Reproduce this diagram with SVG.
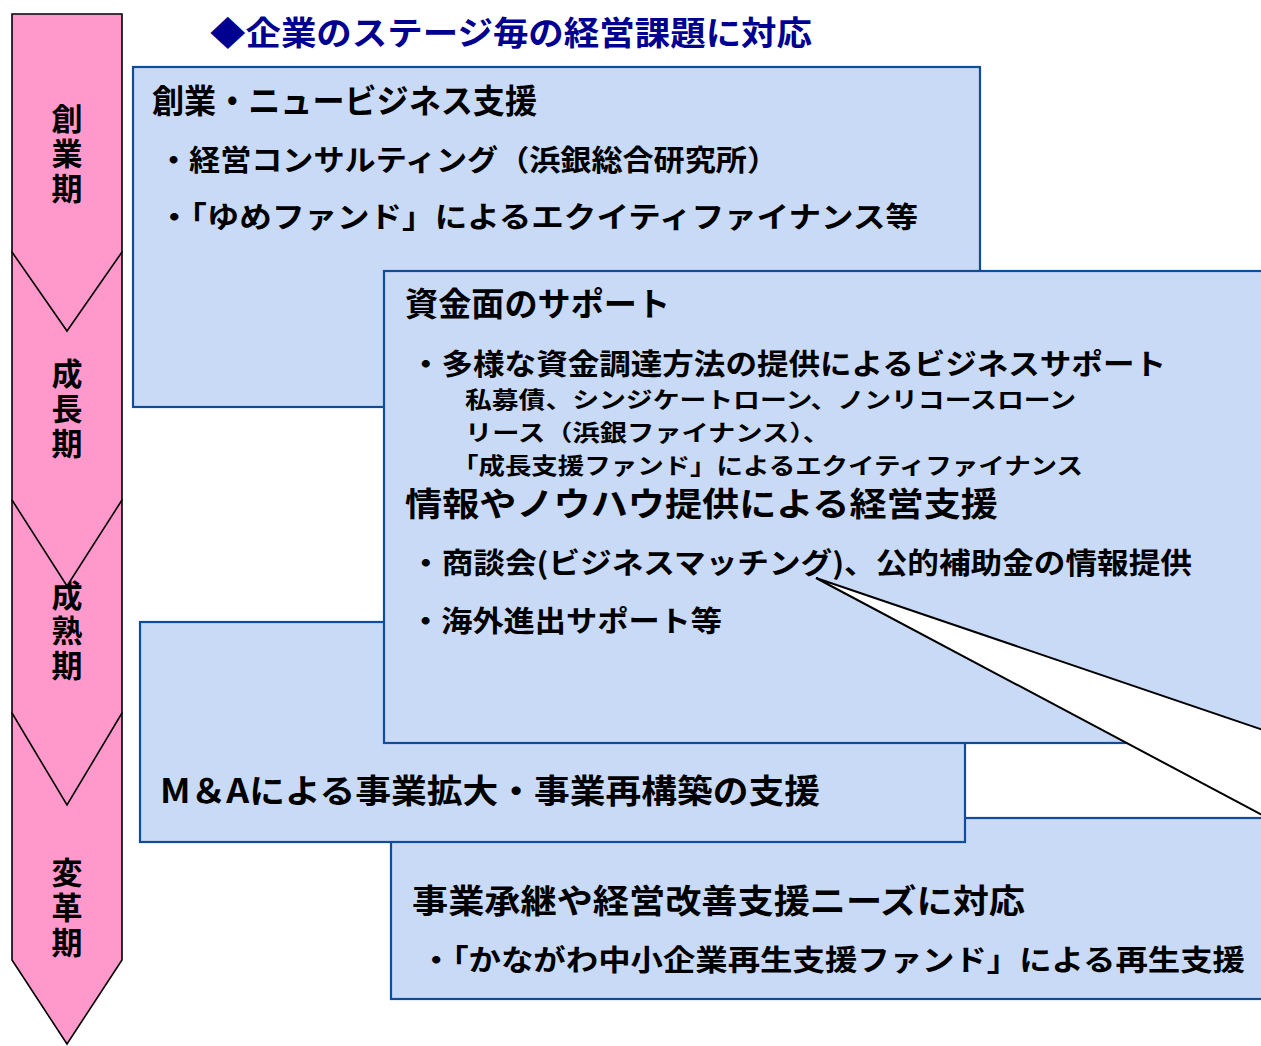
<svg xmlns="http://www.w3.org/2000/svg" width="1261" height="1046" viewBox="0 0 1261 1046">
<style>
.arrow{fill:#FF99CC;stroke:#000;stroke-width:1.6;stroke-linejoin:miter}
.box{fill:#C9DAF7;stroke:#0F4D9C;stroke-width:2.2}
.t{font-family:"Noto Sans CJK JP","Noto Sans",sans-serif;font-weight:700;fill:#000}
.stage{font-size:31px;writing-mode:vertical-rl;letter-spacing:4px}
.h{font-size:33px}
.i{font-size:29px}
.s{font-size:22.5px}
.title{font-family:"Noto Sans CJK JP",sans-serif;font-weight:700;font-size:33px;fill:#000090}
</style>
<rect width="1261" height="1046" fill="#fff"/>

<g id="stages">
  <g id="stage4">
    <path class="arrow" d="M12,713 L122,713 L122,960 L67,1044 L12,960 Z"/>
    <text class="t stage" x="67" y="857">変革期</text>
  </g>
  <g id="stage3">
    <path class="arrow" d="M12,500 L122,500 L122,713 L67,805 L12,713 Z"/>
    <text class="t stage" x="67" y="580">成熟期</text>
  </g>
  <g id="stage2">
    <path class="arrow" d="M12,252 L122,252 L122,500 L67,586 L12,500 Z"/>
    <text class="t stage" x="67" y="358">成長期</text>
  </g>
  <g id="stage1">
    <path class="arrow" d="M12,14 L122,14 L122,252 L67,331 L12,252 Z"/>
    <text class="t stage" x="67" y="103">創業期</text>
  </g>
</g>

<g id="title">
  <text class="title" x="210" y="45" textLength="602" lengthAdjust="spacingAndGlyphs">◆企業のステージ毎の経営課題に対応</text>
</g>

<g id="box-startup">
  <rect class="box" x="133" y="67" width="847" height="340"/>
  <text class="t h" x="152" y="113" textLength="385" lengthAdjust="spacingAndGlyphs">創業・ニュービジネス支援</text>
  <text class="t i" x="158" y="171" textLength="620" lengthAdjust="spacingAndGlyphs">・経営コンサルティング（浜銀総合研究所）</text>
  <text class="t i" x="158" y="228" textLength="760" lengthAdjust="spacingAndGlyphs">・「ゆめファンド」によるエクイティファイナンス等</text>
</g>

<g id="box-succession">
  <rect class="box" x="391" y="818" width="880" height="181"/>
  <text class="t h" x="412" y="913" textLength="613" lengthAdjust="spacingAndGlyphs">事業承継や経営改善支援ニーズに対応</text>
  <text class="t i" x="420" y="971" textLength="825" lengthAdjust="spacingAndGlyphs">・「かながわ中小企業再生支援ファンド」による再生支援</text>
</g>

<g id="box-ma">
  <rect class="box" x="140" y="622" width="825" height="220"/>
  <text class="t h" x="160" y="803" textLength="660" lengthAdjust="spacingAndGlyphs">M＆Aによる事業拡大・事業再構築の支援</text>
</g>

<g id="box-finance">
  <rect class="box" x="384" y="271" width="887" height="472"/>
  <text class="t h" x="405" y="316" textLength="265" lengthAdjust="spacingAndGlyphs">資金面のサポート</text>
  <text class="t i" x="410" y="375" textLength="756" lengthAdjust="spacingAndGlyphs">・多様な資金調達方法の提供によるビジネスサポート</text>
  <text class="t s" x="465" y="408" textLength="611" lengthAdjust="spacingAndGlyphs">私募債、シンジケートローン、ノンリコースローン</text>
  <text class="t s" x="465" y="441" textLength="365" lengthAdjust="spacingAndGlyphs">リース（浜銀ファイナンス）、</text>
  <text class="t s" x="452" y="474" textLength="631" lengthAdjust="spacingAndGlyphs">「成長支援ファンド」によるエクイティファイナンス</text>
  <text class="t h" x="405" y="516" textLength="593" lengthAdjust="spacingAndGlyphs">情報やノウハウ提供による経営支援</text>
  <text class="t i" x="410" y="574" textLength="782" lengthAdjust="spacingAndGlyphs">・商談会(ビジネスマッチング)、公的補助金の情報提供</text>
  <text class="t i" x="410" y="632" textLength="312" lengthAdjust="spacingAndGlyphs">・海外進出サポート等</text>
</g>

<g id="connectors">
  <polygon points="816,578 1266,731 1266,817" fill="#fff" stroke="#000" stroke-width="2" stroke-linejoin="miter"/>
</g>
</svg>
